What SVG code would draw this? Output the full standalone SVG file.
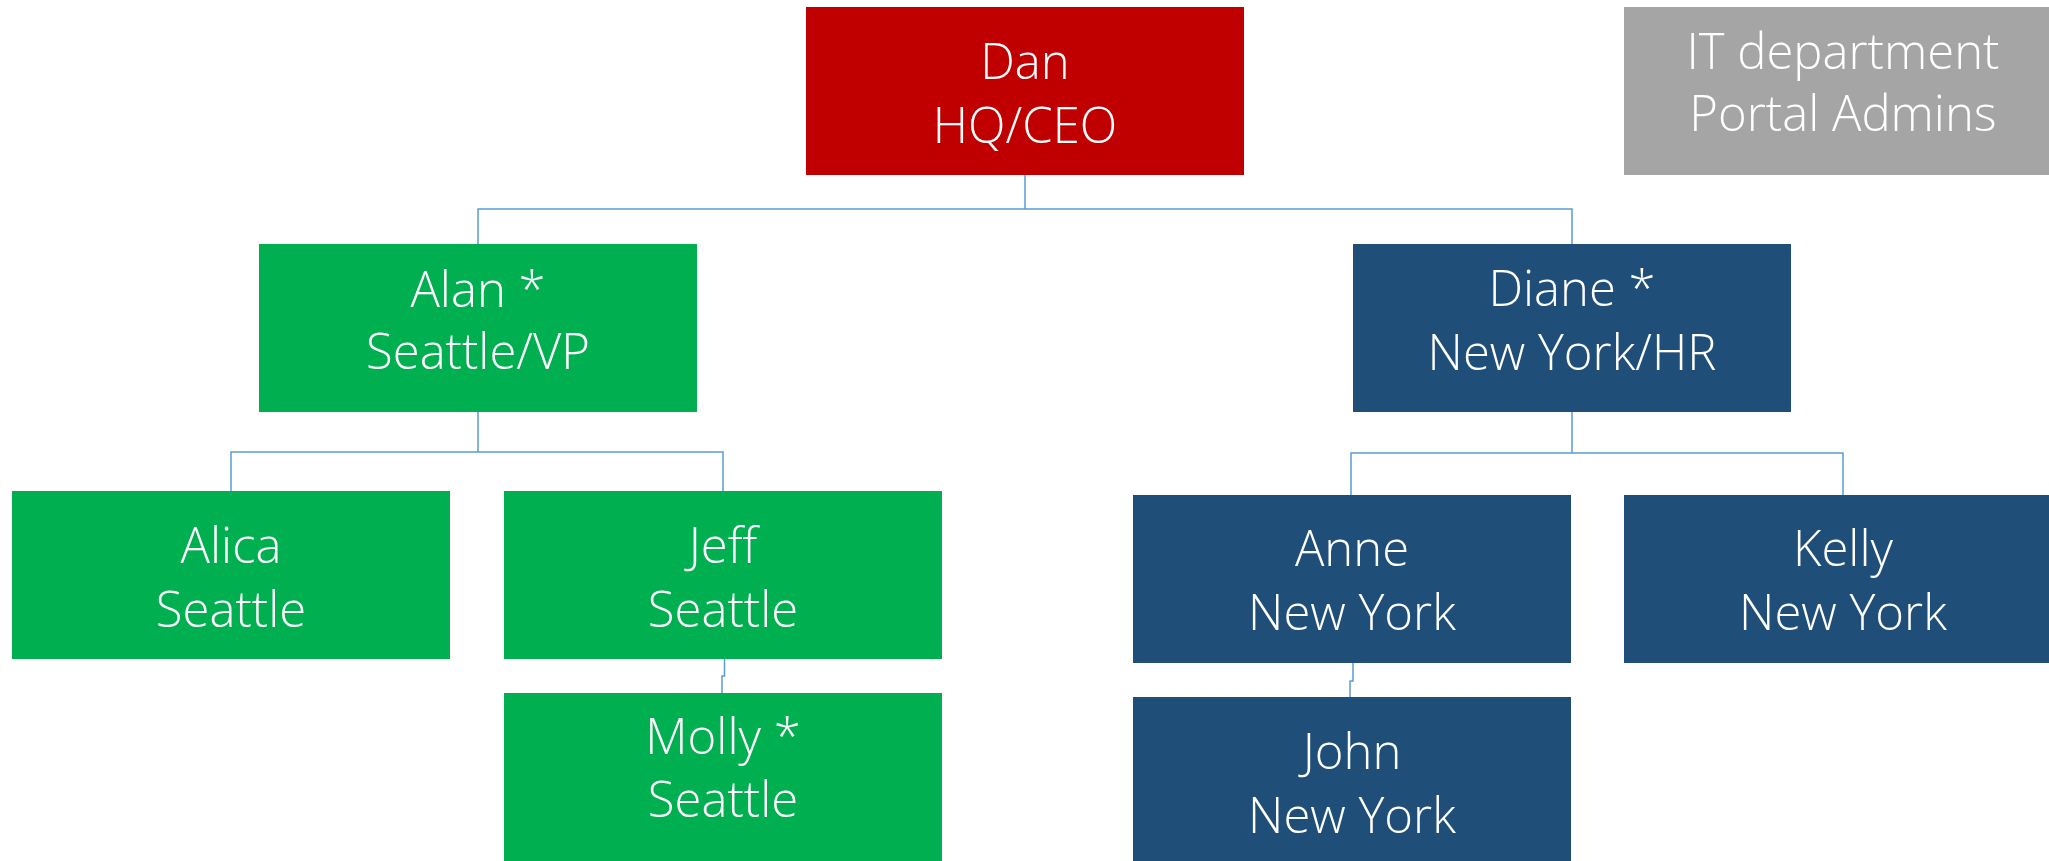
<svg xmlns="http://www.w3.org/2000/svg" width="2049" height="861" viewBox="0 0 2049 861">
<style>
.t{font-family:"Open Sans","Noto Sans","Liberation Sans",sans-serif;font-weight:300;font-size:49px;fill:#ffffff;text-anchor:middle}
.b{font-weight:360}
.red{fill:#C00000}.grn{fill:#00B050}.blu{fill:#1F4E79}.gry{fill:#A5A5A5}
.c{fill:none;stroke:#5B9BD5;stroke-width:1.5}
</style>
<rect width="2049" height="861" fill="#ffffff"/>
<g id="connectors">
<path class="c" d="M1025,175 V209 M478,244 V209 H1572 V244"/>
<path class="c" d="M478,412 V452 M231,491 V452 H723 V491"/>
<path class="c" d="M1572,412 V453 M1351,495 V453 H1843 V495"/>
<path class="c" d="M724.5,659 V676 H722 V693"/>
<path class="c" d="M1353,663 V681 H1350 V697"/>
</g>
<g id="dan"><rect class="red" x="806" y="7" width="438" height="168"/>
<text class="t" x="1025" y="79">Dan</text><text class="t" x="1025" y="143"><tspan class="b">HQ</tspan>/CEO</text></g>
<g id="it"><rect class="gry" x="1624" y="7" width="440" height="168"/>
<text class="t" x="1843" y="69">IT department</text><text class="t" x="1843" y="131">Portal Admins</text></g>
<g id="alan"><rect class="grn" x="259" y="244" width="438" height="168"/>
<text class="t" x="478" y="307">Alan *</text><text class="t" x="478" y="369"><tspan class="b">Seattle</tspan>/VP</text></g>
<g id="diane"><rect class="blu" x="1353" y="244" width="438" height="168"/>
<text class="t" x="1572" y="306">Diane *</text><text class="t" x="1572" y="370"><tspan class="b">New York</tspan>/HR</text></g>
<g id="alica"><rect class="grn" x="12" y="491" width="438" height="168"/>
<text class="t" x="231" y="563">Alica</text><text class="t" x="231" y="627">Seattle</text></g>
<g id="jeff"><rect class="grn" x="504" y="491" width="438" height="168"/>
<text class="t" x="723" y="563">Jeff</text><text class="t" x="723" y="627">Seattle</text></g>
<g id="molly"><rect class="grn" x="504" y="693" width="438" height="180"/>
<text class="t" x="723" y="754">Molly *</text><text class="t" x="723" y="817">Seattle</text></g>
<g id="anne"><rect class="blu" x="1133" y="495" width="438" height="168"/>
<text class="t" x="1352" y="566">Anne</text><text class="t" x="1352" y="630">New York</text></g>
<g id="kelly"><rect class="blu" x="1624" y="495" width="440" height="168"/>
<text class="t" x="1843" y="566">Kelly</text><text class="t" x="1843" y="630">New York</text></g>
<g id="john"><rect class="blu" x="1133" y="697" width="438" height="180"/>
<text class="t" x="1352" y="769">John</text><text class="t" x="1352" y="833">New York</text></g>
</svg>
